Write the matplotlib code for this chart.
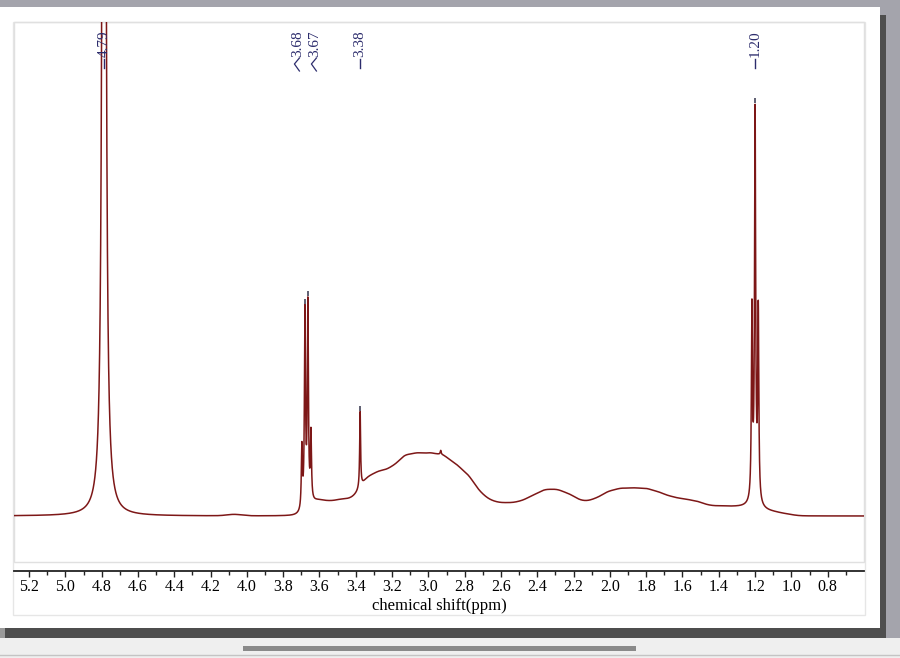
import numpy as np
import matplotlib
matplotlib.use("Agg")
import matplotlib.pyplot as plt
from matplotlib.patches import Rectangle
from matplotlib.lines import Line2D
import matplotlib.transforms as mtransforms

# ---------------- data ----------------
# sharp resonances: shift (ppm), height (a.u.), half width (ppm)
peak_ppm = [4.787, 3.697, 3.680, 3.664, 3.647, 3.376, 2.932, 1.2175, 1.200, 1.1825, 1.200]
peak_height = [4000, 62, 195, 200, 68, 76, 4, 188, 375, 188, 15]
peak_hwhm = [0.005, 0.0035, 0.0035, 0.0035, 0.0035, 0.003, 0.003, 0.0035, 0.0035, 0.0035, 0.012]

# broad background humps: shift (ppm) and level (a.u.)
broad_ppm = [4.07, 3.62, 3.55, 3.48, 3.41, 3.34, 3.27, 3.20, 3.13, 3.06, 2.99, 2.92,
             2.85, 2.78, 2.71, 2.64, 2.57, 2.50, 2.43, 2.36, 2.29, 2.22, 2.15, 2.08,
             2.01, 1.94, 1.87, 1.80, 1.73, 1.66, 1.59, 1.52, 1.45, 1.38, 1.31, 1.24,
             1.17, 1.10, 1.03]
broad_level = [2, 17, 14, 17, 17, 40, 45, 48, 62, 63, 63, 62,
               52, 42, 22, 14, 13, 14, 20, 27, 27, 22, 14, 17,
               25, 28, 28, 28, 24, 19, 17, 15, 10, 10, 9, 9,
               6, 4, 2]

# picked peak labels
label_text = ["4.79", "3.68", "3.67", "3.38", "1.20"]
label_peak_ppm = [4.787, 3.680, 3.664, 3.376, 1.200]

tick_values = [5.2, 5.0, 4.8, 4.6, 4.4, 4.2, 4.0, 3.8, 3.6, 3.4, 3.2, 3.0, 2.8,
               2.6, 2.4, 2.2, 2.0, 1.8, 1.6, 1.4, 1.2, 1.0, 0.8]
x_label = "chemical shift(ppm)"

# ---------------- figure ----------------
W, H = 900, 658
fig = plt.figure(figsize=(W / 100, H / 100), dpi=100)
fig.patch.set_facecolor("white")


def px_rect(x0, y0, x1, y1, **kw):
    return Rectangle((x0 / W, 1 - y1 / H), (x1 - x0) / W, (y1 - y0) / H,
                     transform=fig.transFigure, **kw)


def px_line(xs, ys, **kw):
    return Line2D([x / W for x in xs], [1 - y / H for y in ys],
                  transform=fig.transFigure, **kw)


# window chrome
fig.add_artist(px_rect(0, 0, 900, 7, facecolor="#a4a4ac", edgecolor="none", zorder=-2))
fig.add_artist(px_rect(880, 0, 900, 640, facecolor="#a4a4ac", edgecolor="none", zorder=-2))
fig.add_artist(px_rect(880, 15, 886, 638, facecolor="#4e4e4e", edgecolor="none", zorder=-1))
fig.add_artist(px_rect(0, 628, 5, 638, facecolor="#9a9a9a", edgecolor="none", zorder=-1))
fig.add_artist(px_rect(5, 628, 886, 638, facecolor="#4e4e4e", edgecolor="none", zorder=-1))
fig.add_artist(px_rect(0, 638, 900, 658, facecolor="#efefef", edgecolor="none", zorder=-2))
fig.add_artist(px_line([0, 900], [655, 655], color="#c4c4c4", lw=1, zorder=-1))
fig.add_artist(px_rect(243, 646, 636, 651, facecolor="#8a8a8a", edgecolor="none", zorder=-1))
# panel frames
fig.add_artist(px_rect(13, 22, 865, 615, facecolor="none", edgecolor="#e6e6e6", lw=1, zorder=-1))
fig.add_artist(px_rect(14, 22, 864, 562, facecolor="none", edgecolor="#e0e0e0", lw=1, zorder=-1))

# axes: x 14..864 px, y 22..571 px
ax = fig.add_axes([14 / W, 1 - 571 / H, 850 / W, 549 / H])
ax.set_facecolor("none")

x = np.linspace(5.283, 0.600, 40000)
y = np.zeros_like(x)
for p, h, g in zip(peak_ppm, peak_height, peak_hwhm):
    y += h * g ** 2 / ((x - p) ** 2 + g ** 2)
sig = 0.04
norm = 1.43
for p, lv in zip(broad_ppm, broad_level):
    y += (lv / norm) * np.exp(-0.5 * ((x - p) / sig) ** 2)

ax.plot(x, y, color="#7d1717", lw=1.1, solid_joinstyle="round")

ax.set_xlim(5.283, 0.600)
ax.set_ylim(-55, 494)

for s in ["top", "right", "left"]:
    ax.spines[s].set_visible(False)
ax.spines["bottom"].set_color("#222222")
ax.spines["bottom"].set_linewidth(1.3)
ax.set_yticks([])
ax.set_xticks(tick_values)
ax.set_xticklabels([f"{v:.1f}" for v in tick_values])
ax.set_xticks(np.arange(0.7, 5.25, 0.1), minor=True)
ax.tick_params(axis="x", which="major", direction="out", length=4, width=1,
               color="#222222", pad=2, labelsize=11.5)
ax.tick_params(axis="x", which="minor", direction="out", length=3, width=1,
               color="#222222")
for lab in ax.get_xticklabels():
    lab.set_fontfamily("Liberation Serif")
ax.set_xlabel(x_label, fontfamily="Liberation Serif", fontsize=12, labelpad=2)

# peak pick markers
lab_col = "#2c2c6c"
pk_tops = np.interp(label_peak_ppm[::-1], x[::-1], y[::-1])[::-1]
ax.vlines(label_peak_ppm, pk_tops + 1, pk_tops + 6, color="#44445a", lw=1.2, zorder=3)

# labels
blend = mtransforms.blended_transform_factory(ax.transData, ax.transAxes)
def fy(py):
    return (571 - py) / 549

px_per_ppm = 181.5
label_x = list(label_peak_ppm)
mid = 0.5 * (label_peak_ppm[1] + label_peak_ppm[2])
label_x[1] = mid + 8.5 / px_per_ppm
label_x[2] = mid - 8.5 / px_per_ppm

for i, (t, lx) in enumerate(zip(label_text, label_x)):
    ax.text(lx, fy(30), t, rotation=90, va="top", ha="center", color=lab_col,
            fontfamily="Liberation Serif", fontsize=11, transform=blend, clip_on=False)
    if i in (1, 2):
        d = 1 / px_per_ppm
        ax.plot([lx - 1.5 * d, lx + 3.5 * d, lx - 1.5 * d], [fy(58), fy(64), fy(71)],
                color=lab_col, lw=0.9, transform=blend, clip_on=False)
    else:
        ax.plot([lx, lx], [fy(59), fy(68)], color=lab_col, lw=1.0,
                transform=blend, clip_on=False)

fig.savefig("out.png", dpi=100)
